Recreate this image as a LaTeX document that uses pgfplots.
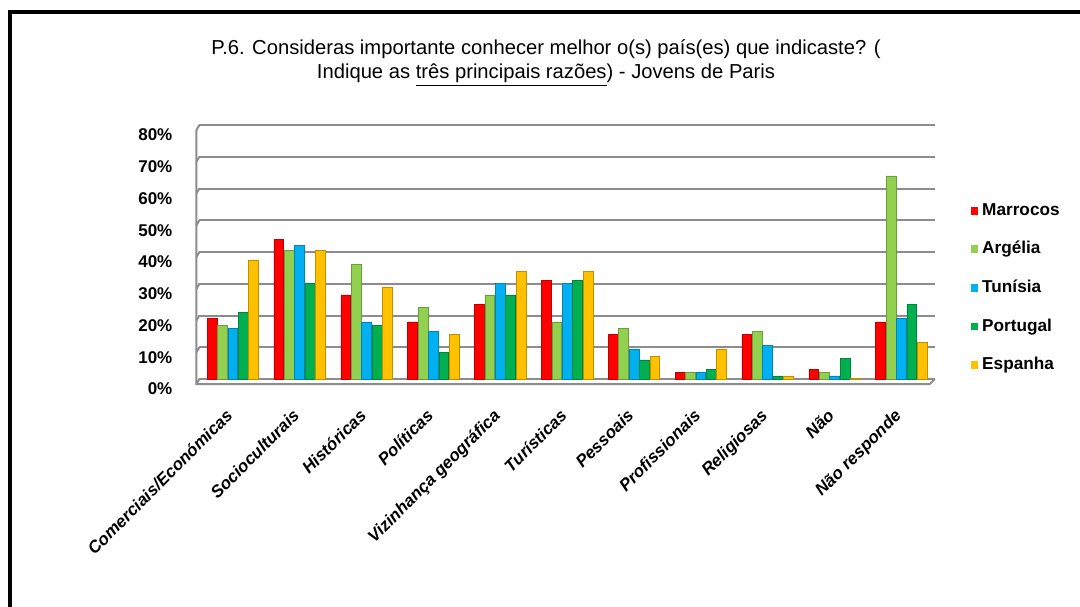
\documentclass[border=0pt]{standalone}
\usepackage{fontspec}
\setmainfont{Liberation Sans}
\usepackage{pgfplots}
\pgfplotsset{compat=1.18}
\usepackage{pgfplotstable}

\definecolor{cMar}{RGB}{255,0,0}
\definecolor{cArg}{RGB}{146,208,80}
\definecolor{cTun}{RGB}{0,176,240}
\definecolor{cPor}{RGB}{0,176,80}
\definecolor{cEsp}{RGB}{255,192,0}
\definecolor{gridgray}{RGB}{140,140,140}

% Percentages per reason (columns: Marrocos, Argélia, Tunísia, Portugal, Espanha)
\pgfplotstableread{
x  Mar   Arg   Tun   Por   Esp
0  19    17    16    21    37.5
1  44    40.5  42    30    40.5
2  26.5  36    18    17    29
3  18    22.5  15    8.5   14
4  23.5  26.5  30    26.5  34
5  31    18    30    31    34
6  14    16    9.5   6     7
7  2     2     2     3     9.5
8  14    15    10.5  1     1
9  3     2     1     6.5   0.3
10 18    64    19    23.5  11.5
}\razoes

\pgfplotsset{
  cyl/.style={fill=#1, draw=#1!75!black, line width=0.3pt},
}

\begin{document}
\begin{tikzpicture}[x=1pt,y=1pt]
\useasboundingbox (0,0) rectangle (540,303);
\clip (0,0) rectangle (540,303);
% outer frame
\draw[line width=2pt] (5,-20) -- (5,297) -- (560,297);

\node[align=center, font=\fontsize{10.1}{12}\selectfont] at (273,271.5)
  {P.6. Consideras importante conhecer melhor o(s) país(es) que indicaste? (\\
   Indique as \underline{três principais razões}) - Jovens de Paris};

\begin{axis}[
  at={(99.7pt,113.5pt)}, anchor=south west,
  scale only axis, width=367.7pt, height=127pt,
  xmin=-0.5, xmax=10.5, ymin=0, ymax=80,
  clip=false,
  ybar=0.3pt, bar width=4.9pt,
  axis line style={draw=none},
  major tick length=0pt,
  xtick={0,...,10},
  xticklabels={Comerciais/Económicas, Socioculturais, Históricas, Políticas,
    Vizinhança geográfica, Turísticas, Pessoais, Profissionais, Religiosas,
    Não, Não responde},
  ytick={0,10,...,80},
  /pgf/number format/assume math mode=true,
  yticklabel={\pgfmathprintnumber{\tick}\%},
  ymajorgrids,
  major grid style={gridgray, line width=1pt},
  yticklabel style={font=\bfseries\fontsize{8.5}{10}\selectfont, yshift=-5pt, xshift=-10pt},
  xticklabel style={xshift=-4pt, yshift=-9.5pt, rotate=45, anchor=north east,
    font=\bfseries\itshape\fontsize{8.5}{10}\selectfont},
  legend image code/.code={\fill[#1, draw=none] (0pt,-1.9pt) rectangle (3.8pt,1.9pt);},
  legend style={at={(1.04,0.724)}, anchor=north west, draw=none, fill=none,
    font=\bfseries\fontsize{8.6}{10}\selectfont, row sep=7.5pt,
    cells={anchor=west}},
]
\addplot[cyl=cMar] table[x=x, y=Mar] {\razoes};
\addplot[cyl=cArg] table[x=x, y=Arg] {\razoes};
\addplot[cyl=cTun] table[x=x, y=Tun] {\razoes};
\addplot[cyl=cPor] table[x=x, y=Por] {\razoes};
\addplot[cyl=cEsp] table[x=x, y=Esp] {\razoes};
\legend{Marrocos, Argélia, Tunísia, Portugal, Espanha}

% front edges of the walls and floor
\pgfplotsinvokeforeach{0,10,...,80}{
  \draw[gridgray, line width=1pt] (axis cs:-0.5,#1) -- ++(-1.5pt,-2.5pt);
}
\draw[gridgray, line width=1pt] ([xshift=-1.5pt,yshift=-2.5pt]axis cs:-0.5,80)
  -- ([xshift=-1.5pt,yshift=-2.5pt]axis cs:-0.5,0)
  -- ([xshift=-2.5pt,yshift=-2.5pt]axis cs:10.5,0) -- (axis cs:10.5,0);
\end{axis}
\end{tikzpicture}
\end{document}
